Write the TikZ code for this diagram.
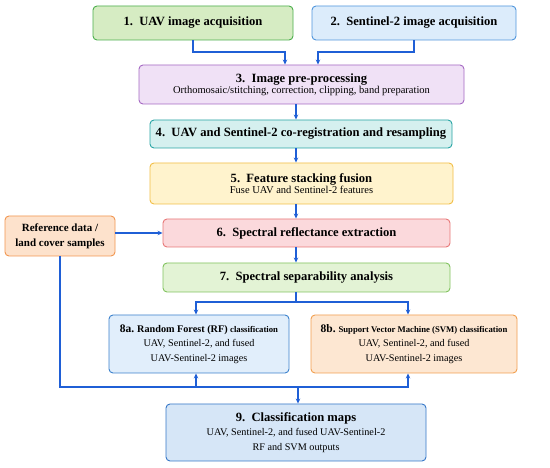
\documentclass[tikz,border=0pt]{standalone}
\usepackage{fontspec}
\setmainfont{Liberation Serif}
\usetikzlibrary{arrows.meta}
\definecolor{arrowblue}{HTML}{1F5FD6}
\begin{document}
\begin{tikzpicture}[x=1pt,y=-1pt,
  box/.style={draw, rounded corners=4pt, line width=0.9pt, align=center, inner sep=1pt},
  ttl/.style={font=\fontsize{12.6}{14}\selectfont\bfseries},
  arr/.style={draw=arrowblue, line width=1.1pt, -{Stealth[length=5pt,width=4.5pt]}},
  ln/.style={draw=arrowblue, line width=1.1pt}]
\useasboundingbox[fill=white] (0,0) rectangle (550,468);

\node[box, draw=green!55!black!70, fill={rgb,255:red,214;green,236;blue,195}, minimum width=200pt, minimum height=34pt, ttl] (b1) at (193,23) {1.\ \ UAV image acquisition};
\node[box, draw={rgb,255:red,80;green,150;blue,220}, fill={rgb,255:red,220;green,236;blue,251}, minimum width=204pt, minimum height=34pt, ttl] (b2) at (414,23) {2.\ \ Sentinel-2 image acquisition};
\node[box, draw={rgb,255:red,165;green,105;blue,195}, fill={rgb,255:red,240;green,225;blue,246}, minimum width=325pt, minimum height=39pt] (b3) at (301.5,84.5) {{\fontsize{12.6}{14}\selectfont\bfseries 3.\ \ Image pre-processing}\\[-1pt]{\fontsize{10.5}{12}\selectfont Orthomosaic/stitching, correction, clipping, band preparation}};
\node[box, draw={rgb,255:red,40;green,165;blue,165}, fill={rgb,255:red,213;green,240;blue,239}, minimum width=302pt, minimum height=28pt, ttl] (b4) at (301,134) {4.\ \ UAV and Sentinel-2 co-registration and resampling};
\node[box, draw={rgb,255:red,242;green,190;blue,70}, fill={rgb,255:red,255;green,243;blue,205}, minimum width=303pt, minimum height=41pt] (b5) at (301.5,183.5) {{\fontsize{12.6}{14}\selectfont\bfseries 5.\ \ Feature stacking fusion}\\[-1pt]{\fontsize{10.5}{12}\selectfont Fuse UAV and Sentinel-2 features}};
\node[box, draw={rgb,255:red,232;green,120;blue,120}, fill={rgb,255:red,251;green,217;blue,220}, minimum width=287pt, minimum height=28pt, ttl] (b6) at (306.5,233) {6.\ \ Spectral reflectance extraction};
\node[box, draw={rgb,255:red,242;green,150;blue,80}, fill={rgb,255:red,253;green,226;blue,204}, minimum width=110pt, minimum height=40pt, font=\fontsize{11}{15}\selectfont\bfseries] (ref) at (60,236) {Reference data /\\land cover samples};
\node[box, draw={rgb,255:red,130;green,195;blue,95}, fill={rgb,255:red,227;green,243;blue,213}, minimum width=287pt, minimum height=29pt, ttl] (b7) at (306.5,277.5) {7.\ \ Spectral separability analysis};
\node[box, draw={rgb,255:red,60;green,130;blue,205}, fill={rgb,255:red,225;green,238;blue,251}, minimum width=180pt, minimum height=58pt, font=\fontsize{10.2}{14.5}\selectfont] (b8a) at (199,344) {{\bfseries\fontsize{11.5}{12}\selectfont 8a.\ }{\bfseries Random Forest (RF)} {\bfseries\fontsize{8.7}{10}\selectfont classification}\\UAV, Sentinel-2, and fused\\UAV-Sentinel-2 images};
\node[box, draw={rgb,255:red,242;green,160;blue,80}, fill={rgb,255:red,253;green,231;blue,210}, minimum width=206pt, minimum height=58pt, font=\fontsize{10.2}{14.5}\selectfont] (b8b) at (414,344) {{\bfseries\fontsize{11.5}{12}\selectfont 8b.\ }{\bfseries\fontsize{8.7}{10}\selectfont Support Vector Machine (SVM) classification}\\UAV, Sentinel-2, and fused\\UAV-Sentinel-2 images};
\node[box, draw={rgb,255:red,55;green,120;blue,200}, fill={rgb,255:red,214;green,230;blue,247}, minimum width=260pt, minimum height=57pt, font=\fontsize{10.2}{14.5}\selectfont] (b9) at (296,432.5) {{\fontsize{12.6}{14}\selectfont\bfseries 9.\ \ Classification maps}\\UAV, Sentinel-2, and fused UAV-Sentinel-2\\RF and SVM outputs};

\coordinate (m1) at (285,52);
\coordinate (m2) at (318,52);
\coordinate (cx) at (296,0);
\coordinate (s7) at (296,302);
\coordinate (sa) at (196,302);
\coordinate (sb) at (408,302);
\coordinate (j3) at (408,387);
\coordinate (ja) at (196,387);
\coordinate (j9) at (298,387);

\draw[arr] (b1.south) |- (m1) -- (m1 |- b3.north);
\draw[arr] (b2.south) |- (m2) -- (m2 |- b3.north);
\draw[arr] (b3.south -| cx) -- (b4.north -| cx);
\draw[arr] (b4.south -| cx) -- (b5.north -| cx);
\draw[arr] (b5.south -| cx) -- (b6.north -| cx);
\draw[arr] (b6.south -| cx) -- (b7.north -| cx);
\draw[arr] (ref.east |- b6.west) -- (b6.west);
\draw[ln] (b7.south -| cx) -- (s7);
\draw[arr] (sa) -- (sb) -- (sb |- b8b.north);
\draw[arr] (sb) -- (sa) -- (sa |- b8a.north);
\draw[arr] (ref.south) |- (j3) -- (j3 |- b8b.south);
\draw[arr] (ja) -- (ja |- b8a.south);
\draw[arr] (j9) -- (j9 |- b9.north);
\end{tikzpicture}
\end{document}
